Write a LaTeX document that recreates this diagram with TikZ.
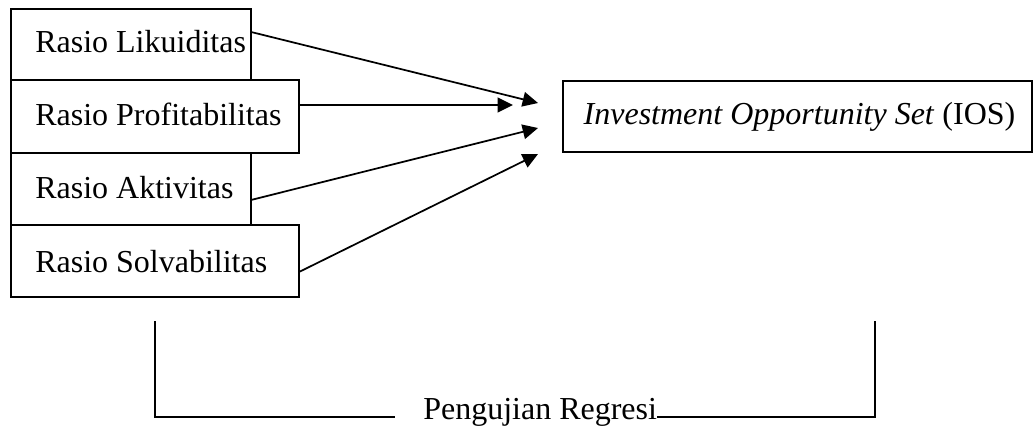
\documentclass[tikz,border=0pt]{standalone}
\usepackage{fontspec}
\setmainfont{Liberation Serif}
\usetikzlibrary{arrows.meta,calc}
\begin{document}
\begin{tikzpicture}[x=0.75pt,y=-0.75pt,
  box/.style={draw, line width=1.4pt, inner sep=0pt, outer sep=0pt},
  lbl/.style={inner sep=0pt, font=\fontsize{24}{28}\selectfont},
  conn/.style={line width=1.3pt, -{Triangle[length=11.5pt,width=11pt]}},
  brk/.style={line width=1.5pt}]
\useasboundingbox (0,0) rectangle (1034,426);
% left boxes
\node[box, minimum width=180pt, minimum height=53.25pt] (liq) at (131,44.5) {};
\node[box, minimum width=216pt, minimum height=54.75pt] (prof) at (155,116.5) {};
\node[box, minimum width=180pt, minimum height=54pt] (akt) at (131,189) {};
\node[box, minimum width=216pt, minimum height=54pt] (solv) at (155,261) {};
\node[lbl, anchor=base west] (liqt) at (35,52) {Rasio Likuiditas};
\node[lbl, anchor=base west] (proft) at (35,125) {Rasio Profitabilitas};
\node[lbl, anchor=base west] (aktt) at (35,198) {Rasio Aktivitas};
\node[lbl, anchor=base west] (solvt) at (35,272) {Rasio Solvabilitas};
% IOS box
\node[box, minimum width=351.75pt, minimum height=53.25pt] (ios) at (797.5,116.5) {};
\node[lbl, anchor=base] (iost) at (799.5,124) {\textit{Investment Opportunity Set} (IOS)};
% arrow tips
\coordinate (t1) at (538,103);
\coordinate (t2) at (513,105);
\coordinate (t3) at (538,128);
\coordinate (t4) at (538,154);
\draw[conn] ([yshift=9.4pt]liq.east) -- (t1);
\draw[conn] ([yshift=8.6pt]prof.east) -- (t2);
\draw[conn] ([yshift=-8.25pt]akt.east) -- (t3);
\draw[conn] ([yshift=-8.25pt]solv.east) -- (t4);
% regression bracket
\node[lbl, anchor=base west] (reg) at (423,419) {Pengujian Regresi};
\coordinate (bl) at (155,321);
\coordinate (br) at (875,321);
\draw[brk] (bl) |- ([xshift=-21pt,yshift=1.5pt]reg.base west);
\draw[brk] ([yshift=1.5pt]reg.base east) -| (br);
\end{tikzpicture}
\end{document}
